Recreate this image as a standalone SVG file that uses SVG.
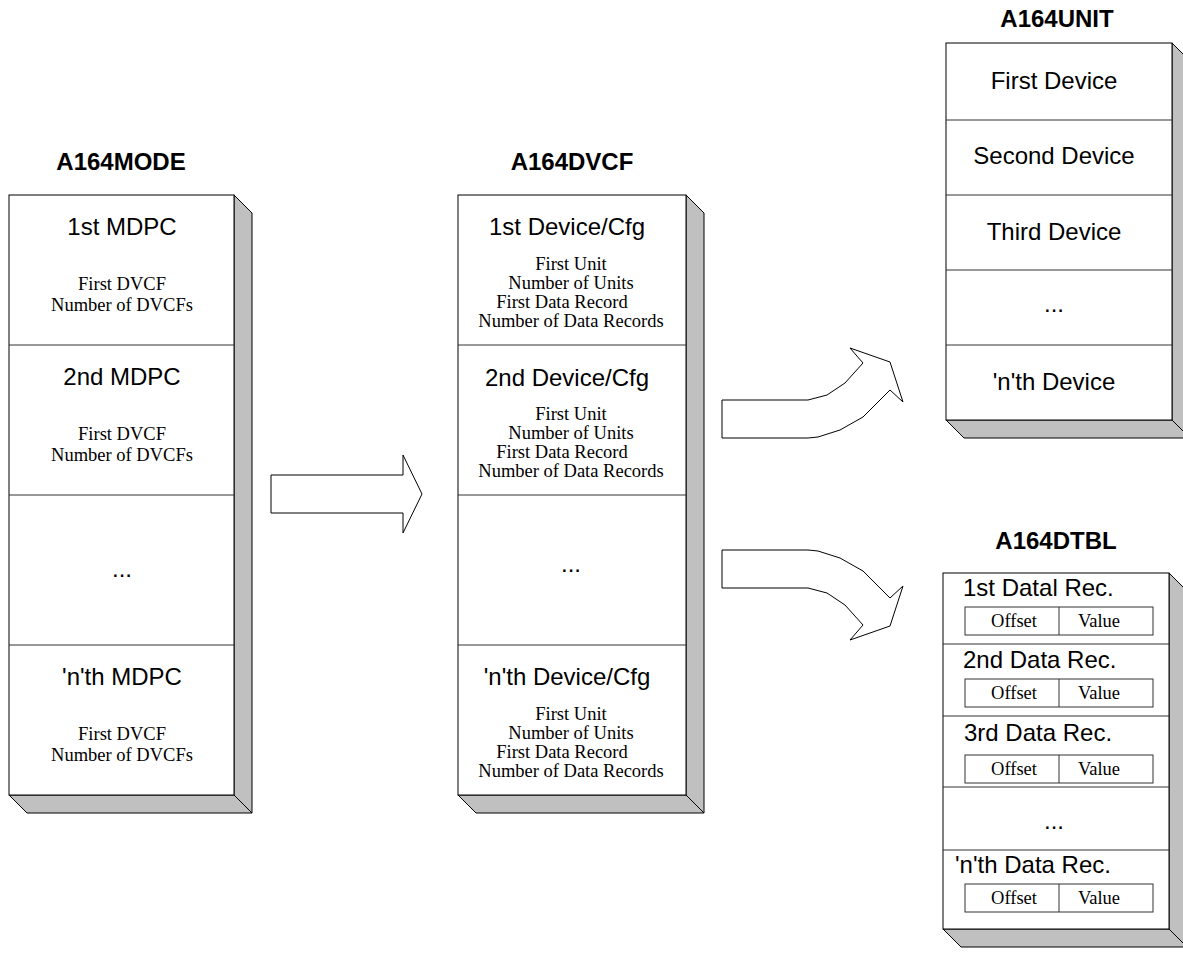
<svg xmlns="http://www.w3.org/2000/svg" width="1183" height="965" viewBox="0 0 1183 965">
<style>
.bg{fill:#ffffff}
.face{fill:#ffffff;stroke:#000000;stroke-width:1}
.side{fill:#c0c0c0;stroke:#000000;stroke-width:1;stroke-linejoin:round}
.div{stroke:#333333;stroke-width:1}
.cell{fill:#ffffff;stroke:#333333;stroke-width:1}
.arrow{fill:#ffffff;stroke:#000000;stroke-width:1;stroke-linejoin:miter}
.title{font-family:"Liberation Sans",Arial,sans-serif;font-size:24px;font-weight:bold;fill:#000;text-anchor:middle}
.hd{font-family:"Liberation Sans",Arial,sans-serif;font-size:24px;fill:#000;text-anchor:middle}
.hdl{font-family:"Liberation Sans",Arial,sans-serif;font-size:24px;fill:#000}
.sm{font-family:"Liberation Serif","Times New Roman",serif;font-size:18.5px;fill:#000;text-anchor:middle}
</style>
<rect class="bg" x="0" y="0" width="1183" height="965"/>

<g id="A164MODE">
<text class="title" x="121" y="170">A164MODE</text>
<polygon class="side" points="234,195 252,213 252,813 234,795"/>
<polygon class="side" points="9,795 234,795 252,813 27,813"/>
<rect class="face" x="9" y="195" width="225" height="600"/>
<line class="div" x1="9" y1="345" x2="234" y2="345"/>
<line class="div" x1="9" y1="495" x2="234" y2="495"/>
<line class="div" x1="9" y1="645" x2="234" y2="645"/>
<text class="hd" x="122" y="235">1st MDPC</text>
<text class="sm" x="122" y="290">First DVCF</text>
<text class="sm" x="122" y="311">Number of DVCFs</text>
<text class="hd" x="122" y="385">2nd MDPC</text>
<text class="sm" x="122" y="440">First DVCF</text>
<text class="sm" x="122" y="461">Number of DVCFs</text>
<text class="hd" x="122" y="577">...</text>
<text class="hd" x="122" y="685">'n'th MDPC</text>
<text class="sm" x="122" y="740">First DVCF</text>
<text class="sm" x="122" y="761">Number of DVCFs</text>
</g>

<g id="A164DVCF">
<text class="title" x="572" y="170">A164DVCF</text>
<polygon class="side" points="686,195 704,213 704,813 686,795"/>
<polygon class="side" points="458,795 686,795 704,813 476,813"/>
<rect class="face" x="458" y="195" width="228" height="600"/>
<line class="div" x1="458" y1="345" x2="686" y2="345"/>
<line class="div" x1="458" y1="495" x2="686" y2="495"/>
<line class="div" x1="458" y1="645" x2="686" y2="645"/>
<text class="hd" x="567" y="235">1st Device/Cfg</text>
<text class="sm" x="571" y="270">First Unit</text>
<text class="sm" x="571" y="289">Number of Units</text>
<text class="sm" x="562" y="308">First Data Record</text>
<text class="sm" x="571" y="327">Number of Data Records</text>
<text class="hd" x="567" y="386">2nd Device/Cfg</text>
<text class="sm" x="571" y="420">First Unit</text>
<text class="sm" x="571" y="439">Number of Units</text>
<text class="sm" x="562" y="458">First Data Record</text>
<text class="sm" x="571" y="477">Number of Data Records</text>
<text class="hd" x="571" y="572">...</text>
<text class="hd" x="567" y="685">'n'th Device/Cfg</text>
<text class="sm" x="571" y="720">First Unit</text>
<text class="sm" x="571" y="739">Number of Units</text>
<text class="sm" x="562" y="758">First Data Record</text>
<text class="sm" x="571" y="777">Number of Data Records</text>
</g>

<g id="A164UNIT">
<text class="title" x="1057" y="27">A164UNIT</text>
<polygon class="side" points="1172,43 1190,61 1190,438 1172,420"/>
<polygon class="side" points="946,420 1172,420 1190,438 964,438"/>
<rect class="face" x="946" y="43" width="226" height="377"/>
<line class="div" x1="946" y1="120" x2="1172" y2="120"/>
<line class="div" x1="946" y1="195" x2="1172" y2="195"/>
<line class="div" x1="946" y1="270" x2="1172" y2="270"/>
<line class="div" x1="946" y1="345" x2="1172" y2="345"/>
<text class="hd" x="1054" y="89">First Device</text>
<text class="hd" x="1054" y="164">Second Device</text>
<text class="hd" x="1054" y="240">Third Device</text>
<text class="hd" x="1054" y="312">...</text>
<text class="hd" x="1054" y="390">'n'th Device</text>
</g>

<g id="A164DTBL">
<text class="title" x="1056" y="549">A164DTBL</text>
<polygon class="side" points="1169,573 1187,591 1187,947 1169,929"/>
<polygon class="side" points="943,929 1169,929 1187,947 961,947"/>
<rect class="face" x="943" y="573" width="226" height="356"/>
<line class="div" x1="943" y1="644" x2="1169" y2="644"/>
<line class="div" x1="943" y1="716" x2="1169" y2="716"/>
<line class="div" x1="943" y1="787" x2="1169" y2="787"/>
<line class="div" x1="943" y1="850" x2="1169" y2="850"/>
<text class="hdl" x="963" y="596">1st Datal Rec.</text>
<rect class="cell" x="965" y="607" width="188" height="28"/>
<line class="div" x1="1059" y1="607" x2="1059" y2="635"/>
<text class="sm" x="1014" y="627">Offset</text>
<text class="sm" x="1099" y="627">Value</text>
<text class="hdl" x="963" y="668">2nd Data Rec.</text>
<rect class="cell" x="965" y="679" width="188" height="28"/>
<line class="div" x1="1059" y1="679" x2="1059" y2="707"/>
<text class="sm" x="1014" y="699">Offset</text>
<text class="sm" x="1099" y="699">Value</text>
<text class="hdl" x="964" y="741">3rd Data Rec.</text>
<rect class="cell" x="965" y="755" width="188" height="28"/>
<line class="div" x1="1059" y1="755" x2="1059" y2="783"/>
<text class="sm" x="1014" y="775">Offset</text>
<text class="sm" x="1099" y="775">Value</text>
<text class="hd" x="1054" y="829">...</text>
<text class="hdl" x="955" y="873">'n'th Data Rec.</text>
<rect class="cell" x="965" y="884" width="188" height="28"/>
<line class="div" x1="1059" y1="884" x2="1059" y2="912"/>
<text class="sm" x="1014" y="904">Offset</text>
<text class="sm" x="1099" y="904">Value</text>
</g>

<g id="connectors">
<polygon class="arrow" points="271,475 403,475 403,455 422,494 403,533 403,513 271,513"/>
<polygon class="arrow" points="722,400 808,400 827,395 845,383 863,363 850,348 890,362 903,402 890,390 863,417 840,430 818,437 808,438 722,438"/>
<polygon class="arrow" points="722,550 808,550 818,551 840,558 863,571 890,598 903,586 890,626 850,640 863,625 845,605 827,593 808,588 722,588"/>
</g>
</svg>
